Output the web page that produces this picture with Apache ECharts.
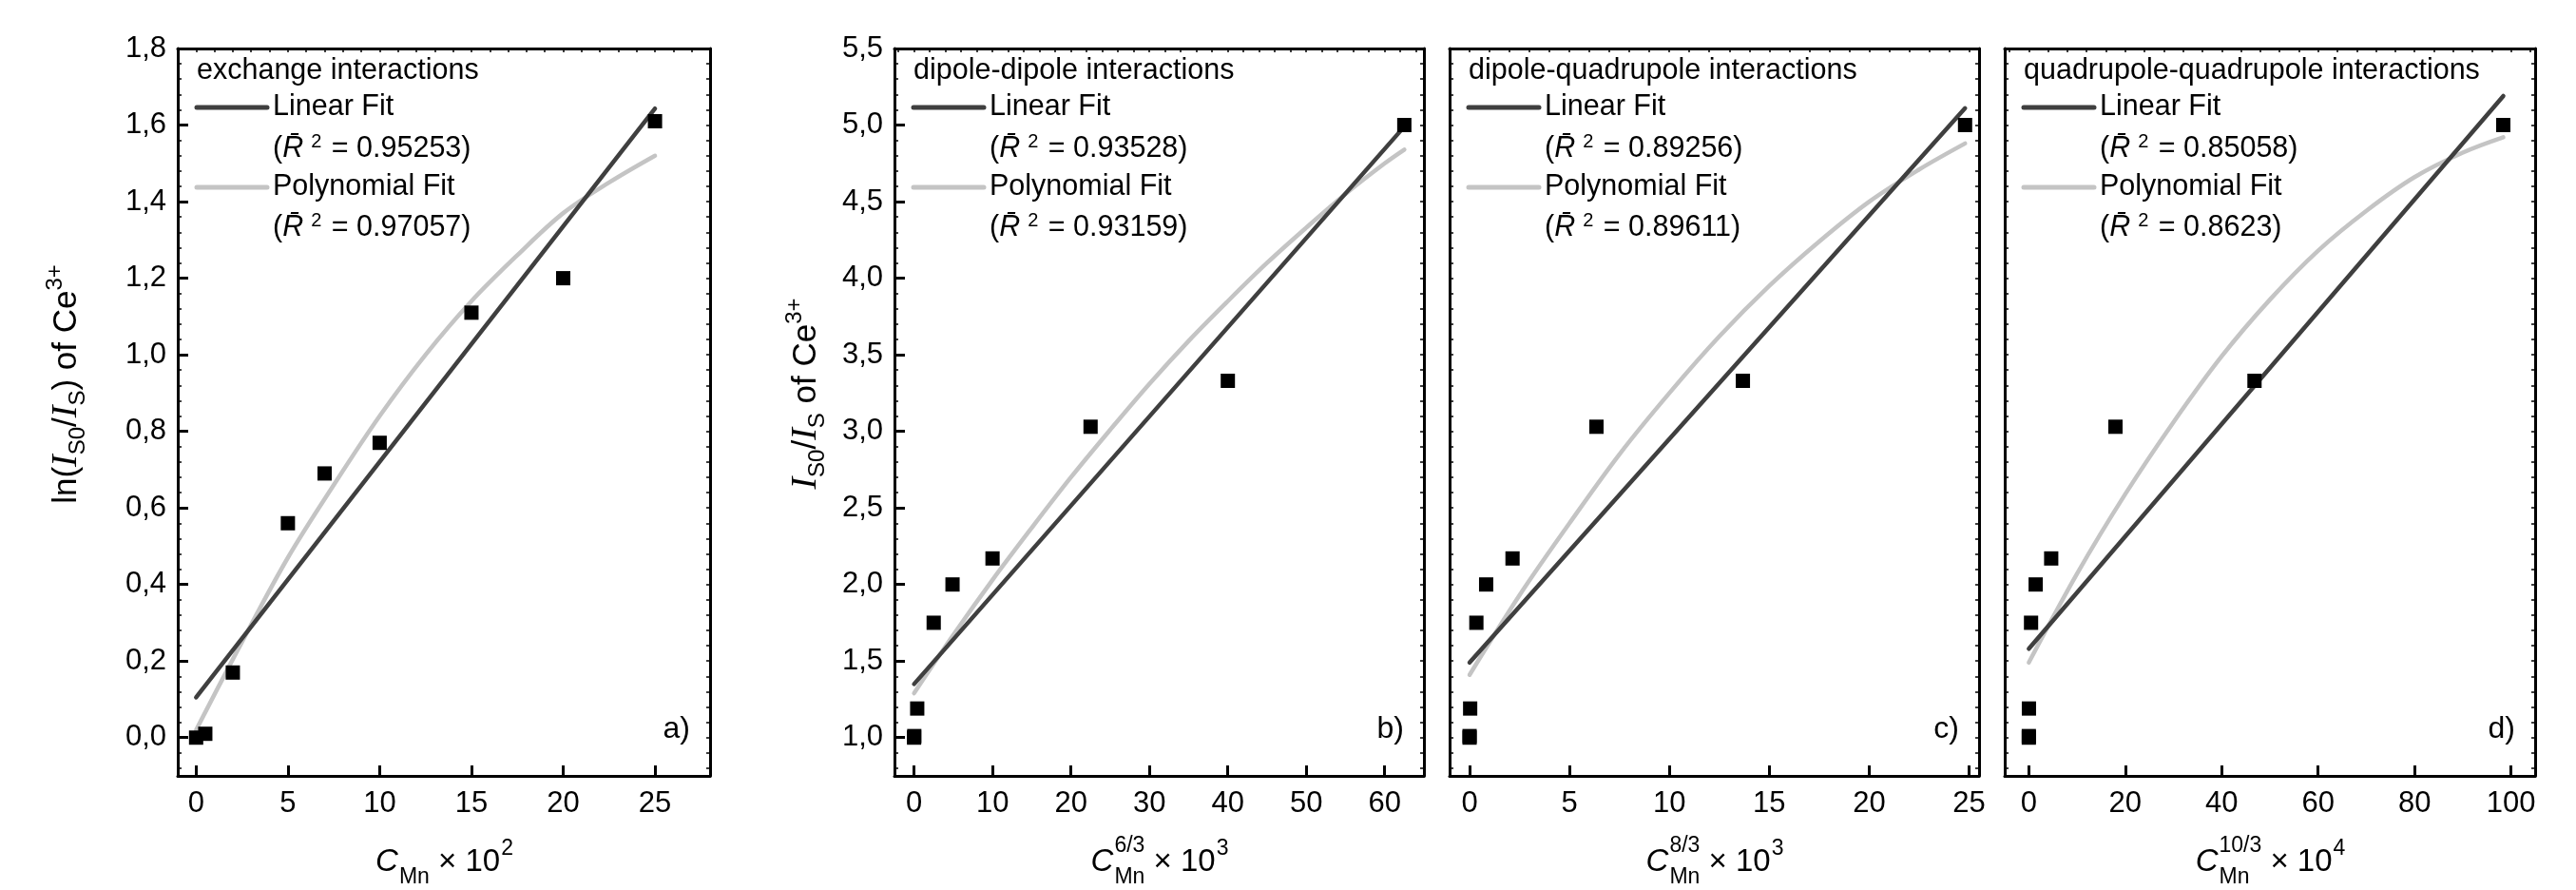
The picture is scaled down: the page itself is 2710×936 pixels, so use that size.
<!DOCTYPE html>
<html>
<head>
<meta charset="utf-8">
<script src="https://cdn.jsdelivr.net/npm/echarts@6/dist/echarts.min.js"></script>
<style>html,body{margin:0;padding:0;background:#fff}#c{width:2710px;height:936px}</style>
</head>
<body>
<div id="c"></div>
<script>
// ---------------- DATA ----------------
const cMn    = [0, 0.5, 2, 5, 7, 10, 15, 20, 25];                 // C_Mn x 10^2
const lnRatio = [0.0, 0.01, 0.17, 0.56, 0.69, 0.77, 1.11, 1.20, 1.61];
const cMn63  = [0, 0.025, 0.4, 2.5, 4.9, 10, 22.5, 40, 62.5];     // C^(6/3) x 10^3
const cMn83  = [0, 0.0007, 0.029, 0.34, 0.83, 2.15, 6.35, 13.68, 24.8]; // C^(8/3) x 10^3
const cMn103 = [0, 0.0002, 0.02, 0.46, 1.42, 4.64, 17.97, 46.8, 98.4];  // C^(10/3) x 10^4
const ratio  = [1.0, 1.01, 1.19, 1.75, 2.0, 2.17, 3.03, 3.33, 5.0];

const linA_x = [0, 25],   linA_y = [0.105, 1.643];
const linB_x = [0, 62.5], linB_y = [1.35, 4.99];
const linC_x = [0, 24.8], linC_y = [1.49, 5.11];
const linD_x = [0, 98.4], linD_y = [1.58, 5.19];

const polyA_x = [0, 2.5, 5, 7.5, 10, 12.5, 15, 17.5, 20, 22.5, 25];
const polyA_y = [0.02, 0.25, 0.47, 0.66, 0.84, 1.00, 1.14, 1.26, 1.37, 1.45, 1.52];
const polyB_x = [0, 5, 10, 15, 20, 25, 30, 35, 40, 45, 50, 55, 60, 62.5];
const polyB_y = [1.29, 1.67, 2.03, 2.37, 2.70, 3.01, 3.31, 3.59, 3.85, 4.10, 4.33, 4.55, 4.75, 4.84];
const polyC_x = [0, 2.5, 5, 7.5, 10, 12.5, 15, 17.5, 20, 22.5, 24.8];
const polyC_y = [1.41, 1.93, 2.40, 2.85, 3.25, 3.62, 3.95, 4.24, 4.50, 4.71, 4.88];
const polyD_x = [0, 10, 20, 30, 40, 50, 60, 70, 80, 90, 98.4];
const polyD_y = [1.49, 2.07, 2.59, 3.06, 3.49, 3.86, 4.18, 4.44, 4.66, 4.82, 4.92];

const r2Lin  = ['0.95253', '0.93528', '0.89256', '0.85058'];
const r2Poly = ['0.97057', '0.93159', '0.89611', '0.8623'];
const panelTitles = ['exchange interactions', 'dipole-dipole interactions',
                     'dipole-quadrupole interactions', 'quadrupole-quadrupole interactions'];
const panelTags = ['a)', 'b)', 'c)', 'd)'];
const xExponents = ['', '6/3', '8/3', '10/3'];
const xPowers = ['2', '3', '3', '4'];

const xTicksA = [0, 5, 10, 15, 20, 25];
const xTicksB = [0, 10, 20, 30, 40, 50, 60];
const xTicksC = [0, 5, 10, 15, 20, 25];
const xTicksD = [0, 20, 40, 60, 80, 100];
const yTicksA = [0, 0.2, 0.4, 0.6, 0.8, 1.0, 1.2, 1.4, 1.6, 1.8];
const yTicksB = [1.0, 1.5, 2.0, 2.5, 3.0, 3.5, 4.0, 4.5, 5.0, 5.5];

// ---------------- STYLE / LAYOUT ----------------
const FONT = "'Liberation Sans', Arial, Helvetica, sans-serif";
const SERIF = "'Liberation Serif', 'Times New Roman', serif";
const LIN_COLOR = '#3f3f3f';
const POLY_COLOR = '#c4c4c4';
const boxes = [[187, 51, 560, 765], [941, 51, 557, 765], [1525, 51, 557, 765], [2109, 51, 558, 765]];

function stepTicks(a, b, step) {
  const out = [];
  const n = Math.round((b - a) / step);
  for (let k = 0; k <= n; k++) out.push(+(a + k * step).toFixed(6));
  return out;
}

const panels = [
  {x: cMn, y: lnRatio, lx: linA_x, ly: linA_y, px: polyA_x, py: polyA_y,
   xMin: -1, xMax: 28, yMin: -0.1, yMax: 1.8, xTicks: xTicksA, yTicks: yTicksA,
   xMinor: stepTicks(-1, 28, 1), yMinor: stepTicks(-0.08, 1.8, 0.04), yLab: true},
  {x: cMn63, y: ratio, lx: linB_x, ly: linB_y, px: polyB_x, py: polyB_y,
   xMin: -2.5, xMax: 65, yMin: 0.75, yMax: 5.5, xTicks: xTicksB, yTicks: yTicksB,
   xMinor: stepTicks(-2, 64, 2), yMinor: stepTicks(0.8, 5.5, 0.1), yLab: true},
  {x: cMn83, y: ratio, lx: linC_x, ly: linC_y, px: polyC_x, py: polyC_y,
   xMin: -1, xMax: 25.5, yMin: 0.75, yMax: 5.5, xTicks: xTicksC, yTicks: yTicksB,
   xMinor: stepTicks(-1, 25, 1), yMinor: stepTicks(0.8, 5.5, 0.1), yLab: false},
  {x: cMn103, y: ratio, lx: linD_x, ly: linD_y, px: polyD_x, py: polyD_y,
   xMin: -5, xMax: 105, yMin: 0.75, yMax: 5.5, xTicks: xTicksD, yTicks: yTicksB,
   xMinor: stepTicks(-4, 104, 4), yMinor: stepTicks(0.8, 5.5, 0.1), yLab: false}
];

const zip = (a, b) => a.map((v, i) => [v, b[i]]);
const comma = v => v.toFixed(1).replace('.', ',');

const mctx = document.createElement('canvas').getContext('2d');
function measure(t, font) { mctx.font = font; return mctx.measureText(t).width; }

const grid = [], xAxis = [], yAxis = [], series = [], graphic = [];

panels.forEach((p, g) => {
  const [gl, gt, gw, gh] = boxes[g];
  grid.push({left: gl, top: gt, width: gw, height: gh, containLabel: false});
  const line3 = {show: true, onZero: false, lineStyle: {color: '#000', width: 3}};
  const noLine = {show: false, onZero: false};
  xAxis.push({gridIndex: g, type: 'value', position: 'bottom', min: p.xMin, max: p.xMax,
    axisLine: line3,
    axisTick: {show: true, inside: true, length: 11, customValues: p.xTicks, lineStyle: {color: '#000', width: 3}},
    axisLabel: {show: true, customValues: p.xTicks, margin: 14, fontSize: 31, fontFamily: FONT, color: '#000'},
    splitLine: {show: false}});
  xAxis.push({gridIndex: g, type: 'value', position: 'top', min: p.xMin, max: p.xMax,
    axisLine: line3,
    axisTick: {show: true, inside: true, length: 4, customValues: p.xMinor, lineStyle: {color: '#000', width: 1.5}},
    axisLabel: {show: false}, splitLine: {show: false}});
  yAxis.push({gridIndex: g, type: 'value', position: 'left', min: p.yMin, max: p.yMax,
    axisLine: line3,
    axisTick: {show: p.yLab, inside: true, length: 11, customValues: p.yTicks, lineStyle: {color: '#000', width: 3}},
    axisLabel: {show: p.yLab, customValues: p.yTicks, margin: 12, fontSize: 31, fontFamily: FONT, color: '#000', formatter: comma},
    splitLine: {show: false}});
  yAxis.push({gridIndex: g, type: 'value', position: 'left', offset: 0, min: p.yMin, max: p.yMax,
    axisLine: noLine,
    axisTick: {show: true, inside: true, length: 4, customValues: p.yMinor, lineStyle: {color: '#000', width: 1.5}},
    axisLabel: {show: false}, splitLine: {show: false}});
  yAxis.push({gridIndex: g, type: 'value', position: 'right', min: p.yMin, max: p.yMax,
    axisLine: line3,
    axisTick: {show: true, inside: true, length: 4, customValues: p.yMinor, lineStyle: {color: '#000', width: 1.5}},
    axisLabel: {show: false}, splitLine: {show: false}});

  const xi = g * 2, yi = g * 3;
  series.push({type: 'line', xAxisIndex: xi, yAxisIndex: yi, data: zip(p.px, p.py),
    smooth: 0.35, showSymbol: false, z: 2,
    lineStyle: {color: POLY_COLOR, width: 4.5, cap: 'round'}});
  series.push({type: 'line', xAxisIndex: xi, yAxisIndex: yi, data: zip(p.lx, p.ly),
    showSymbol: false, z: 3,
    lineStyle: {color: LIN_COLOR, width: 4.5, cap: 'round'}});
  series.push({type: 'scatter', xAxisIndex: xi, yAxisIndex: yi, data: zip(p.x, p.y),
    symbol: 'rect', symbolSize: 15, z: 4, itemStyle: {color: '#000', opacity: 1}});

  // legend block
  const txt = (x, y, text, extra) => ({type: 'text', x, y, z: 10,
    style: Object.assign({text, fontSize: 30.5, fontFamily: FONT, fill: '#000', align: 'left', verticalAlign: 'middle'}, extra || {})});
  const R2_RICH = {
    ri: {fontSize: 30.5, fontFamily: FONT, fontStyle: 'italic', fill: '#000'},
    s2: {fontSize: 20, fontFamily: FONT, fill: '#000', verticalAlign: 'top', lineHeight: 20, padding: [0, 2, 0, 8]}
  };
  const r2 = v => '(' + '{ri|R\u0304}{s2|2}' + ' = ' + v + ')';
  graphic.push(txt(gl + 20, gt + 24, panelTitles[g]));
  graphic.push({type: 'line', z: 10, shape: {x1: gl + 20, y1: gt + 62, x2: gl + 94, y2: gt + 62},
    style: {stroke: LIN_COLOR, lineWidth: 5, lineCap: 'round'}});
  graphic.push(txt(gl + 100, gt + 62, 'Linear Fit'));
  graphic.push(txt(gl + 100, gt + 106, r2(r2Lin[g]), {rich: R2_RICH, lineHeight: 36}));
  graphic.push({type: 'line', z: 10, shape: {x1: gl + 20, y1: gt + 146, x2: gl + 94, y2: gt + 146},
    style: {stroke: POLY_COLOR, lineWidth: 5, lineCap: 'round'}});
  graphic.push(txt(gl + 100, gt + 146, 'Polynomial Fit'));
  graphic.push(txt(gl + 100, gt + 189, r2(r2Poly[g]), {rich: R2_RICH, lineHeight: 36}));
  graphic.push(txt(gl + gw - 21, 767, panelTags[g], {align: 'right', fontSize: 32}));

  // x-axis title laid out piece by piece (stacked super/subscript)
  const big = 33, small = 23;
  const fC = 'italic ' + big + 'px ' + FONT, fN = big + 'px ' + FONT, fS = small + 'px ' + FONT;
  const cx = gl + gw / 2, cy = 907;
  const wC = measure('C', fC) + 1;
  const wStack = Math.max(measure('Mn', fS), measure(xExponents[g], fS));
  const wX = measure(' \u00d7 10', fN);
  const wP = measure(xPowers[g], fS);
  let x0 = cx - (wC + wStack + wX + wP) / 2;
  const piece = (x, y, t, size, italic) => ({type: 'text', x, y, z: 10,
    style: {text: t, fontSize: size, fontFamily: FONT, fontStyle: italic ? 'italic' : 'normal',
            fill: '#000', align: 'left', verticalAlign: 'middle'}});
  graphic.push(piece(x0, cy, 'C', big, true));
  if (xExponents[g]) graphic.push(piece(x0 + wC, cy - 17, xExponents[g], small, false));
  graphic.push(piece(x0 + wC, cy + 16, 'Mn', small, false));
  graphic.push(piece(x0 + wC + wStack, cy, ' \u00d7 10', big, false));
  graphic.push(piece(x0 + wC + wStack + wX + 1, cy - 14, xPowers[g], small, false));
});

// y-axis titles
const TR = {
  n:   {fontSize: 35, fontFamily: FONT, fill: '#000', lineHeight: 48},
  i:   {fontSize: 38, fontFamily: SERIF, fontStyle: 'italic', fill: '#000', lineHeight: 48},
  sub: {fontSize: 24, fontFamily: FONT, fill: '#000', lineHeight: 24, verticalAlign: 'bottom'},
  sup: {fontSize: 24, fontFamily: FONT, fill: '#000', lineHeight: 24, verticalAlign: 'top'}
};
const yTitleA = '{n|ln(}{i|I}{sub|S0}{n|/}{i|I}{sub|S}{n|) of Ce}{sup|3+}';
const yTitleB = '{i|I}{sub|S0}{n|/}{i|I}{sub|S}{n| of Ce}{sup|3+}';
graphic.push({type: 'text', x: 70, y: 404, rotation: Math.PI / 2, z: 10,
  style: {text: yTitleA, rich: TR, align: 'center', verticalAlign: 'middle', fill: '#000'}});
graphic.push({type: 'text', x: 848, y: 414, rotation: Math.PI / 2, z: 10,
  style: {text: yTitleB, rich: TR, align: 'center', verticalAlign: 'middle', fill: '#000'}});

const chart = echarts.init(document.getElementById('c'));
chart.setOption({
  animation: false,
  backgroundColor: '#fff',
  grid, xAxis, yAxis, series, graphic
});
</script>
</body>
</html>
